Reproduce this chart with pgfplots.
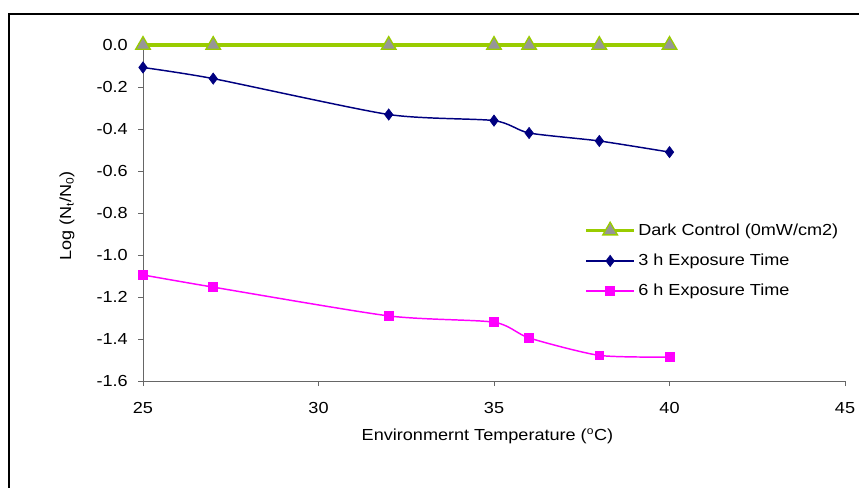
\documentclass[border=0pt]{standalone}
\usepackage{pgfplots}
\pgfplotsset{compat=1.18}
\usepackage{fontspec}
\setmainfont{Liberation Sans}[FakeStretch=1.13]
\definecolor{darkgreen}{RGB}{153,204,0}
\definecolor{mgray}{RGB}{150,150,150}
\definecolor{navyb}{RGB}{0,0,128}
\definecolor{magenta2}{RGB}{255,0,255}
\begin{document}
\fontsize{12}{14.4}\selectfont
\begin{tikzpicture}
\useasboundingbox (0,0) rectangle (644.25pt,365.25pt);
\draw[line width=1.1pt, black] (6.75pt,-2pt) -- (6.75pt,354.75pt) -- (650pt,354.75pt);
\begin{axis}[
  at={(107.25pt,79.5pt)}, anchor=south west,
  scale only axis, width=526.5pt, height=252pt,
  xmin=25, xmax=45, ymin=-1.6, ymax=0,
  clip=false,
  axis x line*=bottom, axis y line*=left,
  axis line style={black!60, line width=0.75pt, -},
  every tick/.style={black!60, line width=0.75pt},
  tick align=outside, major tick length=3.75pt,
  xtick={25,30,35,40,45},
  ytick={-1.6,-1.4,-1.2,-1.0,-0.8,-0.6,-0.4,-0.2,0},
  /pgf/number format/assume math mode=true,
  yticklabel style={xshift=-3.5pt},
  yticklabel style={/pgf/number format/.cd, fixed, fixed zerofill, precision=1},
  xticklabel style={yshift=-8pt},
  ticklabel style={font=\fontsize{12}{14.4}\selectfont},
  xlabel={Environmernt Temperature (\textsuperscript{o}C)},
  ylabel={Log (N\textsubscript{t}/N\textsubscript{0})},
  every axis x label/.style={at={(axis description cs:0.4907,-0.1637)}, anchor=center},
  every axis y label/.style={at={(axis description cs:-0.1083,0.491)}, rotate=90, anchor=center},
  label style={font=\fontsize{12}{14.4}\selectfont},
  legend style={draw=none, fill=none, at={(0.623,0.485)}, anchor=north west,
    font=\fontsize{12}{14.4}\selectfont, row sep=8.2pt},
  legend cell align=left,
  legend image code/.code={\draw[mark repeat=2,mark phase=2,#1] plot coordinates {(0pt,0pt) (18pt,0pt) (36pt,0pt)};},
]
\addplot[darkgreen, line width=2.3pt, mark=triangle*, mark size=6.3pt,
  mark options={fill=mgray, draw=darkgreen, line width=1pt}]
  coordinates {(25,0) (27,0) (32,0) (35,0) (36,0) (38,0) (40,0)};
\addlegendentry{Dark Control (0mW/cm2)}
\addplot[navyb, line width=1.1pt, smooth, tension=0.4, mark=diamond*, mark size=4.2pt,
  mark options={fill=navyb, line width=0.5pt}]
  coordinates {(25,-0.107) (27,-0.16) (32,-0.331) (35,-0.36) (36,-0.419) (38,-0.457) (40,-0.51)};
\addlegendentry{3 h Exposure Time}
\addplot[magenta2, line width=1.1pt, smooth, tension=0.4, mark=square*, mark size=3.3pt,
  mark options={fill=magenta2, line width=0.5pt}]
  coordinates {(25,-1.095) (27,-1.153) (32,-1.29) (35,-1.32) (36,-1.395) (38,-1.478) (40,-1.486)};
\addlegendentry{6 h Exposure Time}
\end{axis}
\end{tikzpicture}
\end{document}
